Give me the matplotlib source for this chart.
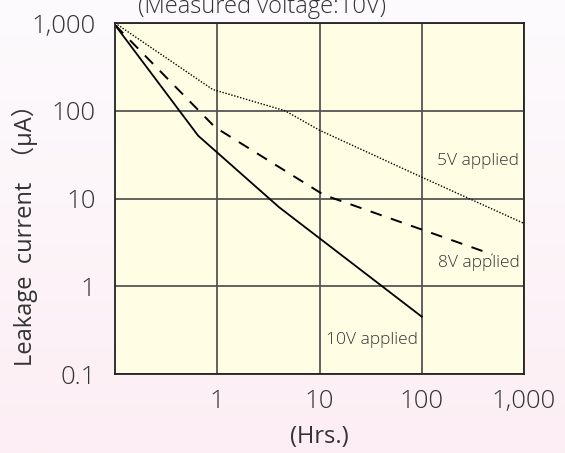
import numpy as np
import matplotlib
matplotlib.use("Agg")
import matplotlib.pyplot as plt
from matplotlib.ticker import FixedLocator, NullLocator

plt.rcParams['font.family'] = ['Open Sans', 'Noto Sans CJK JP', 'DejaVu Sans']
plt.rcParams['font.weight'] = 'light'

# Data (hours, leakage current in µA)
x_10v = [0.1, 0.65, 4.0, 100]
y_10v = [950, 52, 8.0, 0.45]
x_8v = [0.1, 0.95, 11.0, 490]
y_8v = [950, 65, 11.0, 2.3]
x_5v = [0.1, 0.9, 4.6, 10, 100, 1000]
y_5v = [1000, 175, 100, 60, 17.5, 5.2]

x_ticks = [1, 10, 100, 1000]
x_tick_labels = ["1", "10", "100", "1,000"]
y_ticks = [0.1, 1, 10, 100, 1000]
y_tick_labels = ["0.1", "1", "10", "100", "1,000"]

W, H = 565, 453
fig = plt.figure(figsize=(W / 100, H / 100), dpi=100)

# background gradient
bg = fig.add_axes([0, 0, 1, 1], zorder=-10)
grad = np.linspace(0, 1, 256).reshape(-1, 1)
top = np.array([253, 251, 253]) / 255
bot = np.array([252, 238, 244]) / 255
img = top[None, None, :] * (1 - grad[:, :, None]) + bot[None, None, :] * grad[:, :, None]
bg.imshow(img, aspect='auto', extent=[0, 1, 0, 1])
bg.axis('off')

L, R, T, B = 115, 524, 23, 374
ax = fig.add_axes([L / W, 1 - B / H, (R - L) / W, (B - T) / H])
ax.set_facecolor('#fffde3')
ax.set_xscale('log')
ax.set_yscale('log')
ax.set_xlim(0.1, 1000)
ax.set_ylim(0.1, 1000)

ax.xaxis.set_major_locator(FixedLocator(x_ticks))
ax.yaxis.set_major_locator(FixedLocator(y_ticks))
ax.xaxis.set_minor_locator(NullLocator())
ax.yaxis.set_minor_locator(NullLocator())
ax.set_xticklabels(x_tick_labels)
ax.set_yticklabels(y_tick_labels)
ax.tick_params(length=0, labelsize=18.5, colors='#333333')
ax.tick_params(axis='x', pad=11)
ax.tick_params(axis='y', pad=14)

ax.grid(True, color='#555555', linewidth=1.3)
ax.set_axisbelow(True)
for s in ax.spines.values():
    s.set_color('#222222')
    s.set_linewidth(1.3)

ax.plot(x_10v, y_10v, color='black', linewidth=1.3, linestyle='-')
ax.plot(x_8v, y_8v, color='black', linewidth=1.4, linestyle=(0, (6, 5)))
ax.plot(x_5v, y_5v, color='black', linewidth=1.0, linestyle=(0, (1, 1.2)))

lab = dict(fontsize=12.5, color='#333333', fontweight='light')
ax.text(900, 27, "5V applied", ha='right', va='center', **lab)
ax.text(900, 1.82, "8V applied", ha='right', va='center', **lab)
ax.text(92, 0.245, "10V applied", ha='right', va='center', **lab)

ax.set_xlabel("(Hrs.)", fontsize=17, color='#333333', labelpad=8)
ax.set_ylabel("Leakage  current  （μA）", fontsize=17, color='#333333', va='center')
ax.yaxis.set_label_coords((25 - L) / (R - L), (B - 229) / (B - T))

fig.text(262 / W, 1 - 7 / H, "(Measured voltage:10V)", ha='center', va='center',
         fontsize=17, color='#333333')

fig.savefig("out.png", dpi=100)
